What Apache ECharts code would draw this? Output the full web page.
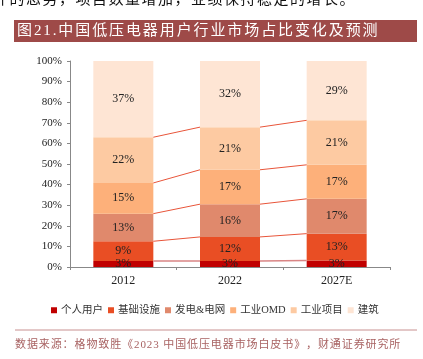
<!DOCTYPE html>
<html>
<head>
<meta charset="utf-8">
<script src="https://cdn.jsdelivr.net/npm/echarts@6/dist/echarts.min.js"></script>
<style>
html,body{margin:0;padding:0;background:#fff;}
#c{width:423px;height:359px;}
</style>
</head>
<body>
<div id="c"></div>
<script>
var categories = ['2012', '2022', '2027E'];
var seriesNames = ['个人用户', '基础设施', '发电&电网', '工业OMD', '工业项目', '建筑'];
var personal = [2.9, 2.9, 3.2];
var infra = [9.6, 11.7, 13.0];
var power = [13.4, 15.9, 16.9];
var omd = [14.9, 16.7, 16.5];
var project = [22.2, 20.7, 21.6];
var building = [37.0, 32.1, 28.8];
var personalLabels = ['3%', '3%', '3%'];
var infraLabels = ['9%', '12%', '13%'];
var powerLabels = ['13%', '16%', '17%'];
var omdLabels = ['15%', '17%', '17%'];
var projectLabels = ['22%', '21%', '21%'];
var buildingLabels = ['37%', '32%', '29%'];
var yTicks = ['0%', '10%', '20%', '30%', '40%', '50%', '60%', '70%', '80%', '90%', '100%'];
var titleText = '图21.中国低压电器用户行业市场占比变化及预测';
var topText = '件的态势，项目数量增加，业绩保持稳定的增长。';
var sourceText = '数据来源：格物致胜《2023 中国低压电器市场白皮书》，财通证券研究所';

var colors = ['#c00000', '#e94e24', '#e0896c', '#fdb07a', '#fdcaa2', '#fee5d4'];
var allValues = [personal, infra, power, omd, project, building];
var allLabels = [personalLabels, infraLabels, powerLabels, omdLabels, projectLabels, buildingLabels];

var serif = '"Liberation Serif", "Noto Sans CJK SC", serif';

var measureCtx = document.createElement('canvas').getContext('2d');
function spacedText(str, x, y, size, fill, spacing) {
  var font = size + 'px ' + serif;
  measureCtx.font = font;
  var out = [];
  var cx = x;
  for (var i = 0; i < str.length; i++) {
    var ch = str[i];
    out.push({ type: 'text', x: cx, y: y, silent: true, style: { text: ch, font: font, fill: fill, textVerticalAlign: 'middle', verticalAlign: 'middle' } });
    cx += measureCtx.measureText(ch).width + spacing;
  }
  return out;
}

var series = seriesNames.map(function (n, s) {
  return {
    name: n,
    type: 'bar',
    stack: 'total',
    barWidth: 60,
    itemStyle: { color: colors[s] },
    label: {
      show: true,
      position: 'inside',
      color: '#222',
      fontFamily: serif,
      fontSize: 12,
      formatter: function (p) { return allLabels[s][p.dataIndex]; }
    },
    data: allValues[s]
  };
});

var connData = [];
for (var i = 0; i < categories.length - 1; i++) {
  var ca = 0, cb = 0;
  for (var k = 0; k < allValues.length - 1; k++) {
    ca += allValues[k][i];
    cb += allValues[k][i + 1];
    connData.push([i, ca, cb, k]);
  }
}
series.push({
  type: 'custom',
  name: 'conn',
  silent: true,
  z: 5,
  encode: { x: 0, y: 1 },
  renderItem: function (params, api) {
    var i = api.value(0);
    var p1 = api.coord([i, api.value(1)]);
    var p2 = api.coord([i + 1, api.value(2)]);
    var k = api.value(3);
    return {
      type: 'line',
      shape: { x1: p1[0] + 30, y1: p1[1], x2: p2[0] - 30, y2: p2[1] },
      style: { stroke: k === 0 ? '#d98585' : '#e8553a', lineWidth: k === 0 ? 1.5 : 1 }
    };
  },
  data: connData
});

var graphics = [];
graphics = graphics.concat(spacedText(topText, -7, 0, 15, '#111', 1.5));
graphics.push({ type: 'rect', shape: { x: 14, y: 20, width: 403, height: 22 }, style: { fill: '#9e4a48' } });
graphics = graphics.concat(spacedText(titleText, 17, 31.5, 15, '#fff', 1.9));
graphics.push({ type: 'line', shape: { x1: 15, y1: 330, x2: 417, y2: 330 }, style: { stroke: '#c89090', lineWidth: 1 } });
graphics = graphics.concat(spacedText(sourceText, 15, 345, 11, '#a86262', 0.9));

var chart = echarts.init(document.getElementById('c'));
chart.setOption({
  animation: false,
  grid: { left: 70, right: 33, top: 61, bottom: 92 },
  legend: {
    data: seriesNames,
    left: 46,
    top: 300,
    itemWidth: 6,
    itemHeight: 6,
    itemGap: 5,
    icon: 'rect',
    textStyle: { fontFamily: serif, fontSize: 10.5, color: '#333', padding: [0, 0, 0, -1] }
  },
  xAxis: {
    type: 'category',
    data: categories,
    axisLine: { lineStyle: { color: '#888' } },
    axisTick: { show: true, length: 3, lineStyle: { color: '#888' } },
    axisLabel: { color: '#222', fontFamily: serif, fontSize: 12, margin: 8 }
  },
  yAxis: {
    type: 'value',
    min: 0,
    max: 100,
    interval: 10,
    axisLine: { show: true, lineStyle: { color: '#888' } },
    axisTick: { show: true, length: 3, lineStyle: { color: '#888' } },
    splitLine: { show: false },
    axisLabel: {
      color: '#222', fontFamily: serif, fontSize: 11, margin: 8,
      formatter: function (v) { return yTicks[Math.round(v / 10)]; }
    }
  },
  graphic: graphics,
  series: series
});
</script>
</body>
</html>
